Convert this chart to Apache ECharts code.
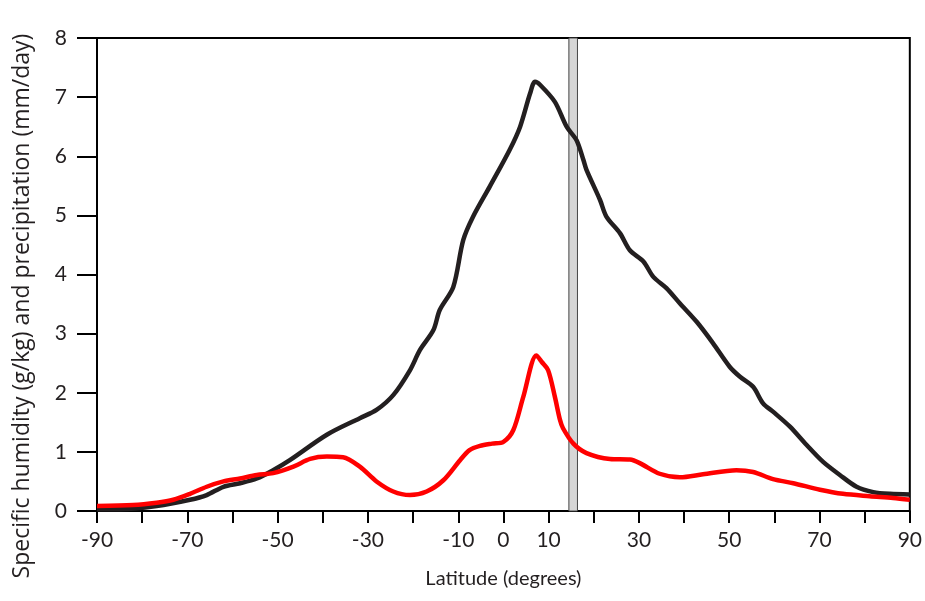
<!DOCTYPE html>
<html>
<head>
<meta charset="utf-8">
<script src="https://cdn.jsdelivr.net/npm/echarts@6/dist/echarts.min.js"></script>
<style>
html,body{margin:0;padding:0;background:#fff;}
#chart{width:925px;height:601px;}
</style>
</head>
<body>
<div id="chart"></div>
<script>
// Latitude positions (degrees) and values
const humidityLat = [-90,-84.9,-76.8,-69.4,-65.7,-62.0,-58.3,-54.6,-51.0,-47.3,-39.1,-31.8,-28.1,-24.4,-20.7,-18.5,-15.5,-14.1,-11.1,-8.9,-6.7,-3.0,1.4,3.7,5.9,7.0,8.1,11.4,14.0,16.2,17.7,18.4,21.4,22.8,25.8,28.0,31.0,33.2,36.1,39.1,42.8,46.4,50.1,52.4,55.3,57.5,59.7,63.4,67.1,70.8,74.5,78.2,81.9,85.6,90];
const humidity = [0.03,0.03,0.085,0.19,0.27,0.41,0.47,0.55,0.69,0.86,1.29,1.57,1.71,1.96,2.38,2.72,3.06,3.40,3.79,4.58,4.98,5.49,6.11,6.50,7.06,7.26,7.21,6.92,6.50,6.27,5.94,5.77,5.26,4.98,4.70,4.41,4.22,3.96,3.77,3.51,3.20,2.84,2.44,2.27,2.10,1.82,1.68,1.43,1.12,0.83,0.61,0.41,0.32,0.29,0.28];

const precipLat = [-90,-82,-76.8,-73.1,-69.4,-65.7,-62.0,-58.3,-54.6,-51.0,-46.5,-42.8,-39.1,-35.5,-31.8,-28.1,-24.4,-20.7,-17.0,-13.3,-9.6,-7.5,-5.2,-2.5,0.0,2.2,4.4,7.3,8.5,9.9,11.4,12.5,13.2,15.5,18.4,23.6,28.0,30.2,34.6,39.1,44.2,51.6,55.3,59.7,64.2,70.1,75.2,81.1,86.3,90];
const precip = [0.085,0.10,0.14,0.19,0.29,0.41,0.50,0.55,0.61,0.64,0.75,0.88,0.92,0.91,0.75,0.50,0.33,0.27,0.33,0.52,0.86,1.03,1.10,1.14,1.17,1.37,1.93,2.63,2.52,2.38,1.93,1.55,1.40,1.14,0.98,0.88,0.87,0.81,0.63,0.57,0.62,0.69,0.66,0.54,0.47,0.36,0.29,0.25,0.22,0.19];

const bandLat = [14.5, 16.4];
const xTickLabels = [-90,-70,-50,-30,-10,0,10,30,50,70,90];

const FONT = 'Lato';
const chart = echarts.init(document.getElementById('chart'), null, {renderer:'canvas'});
chart.setOption({
  animation: false,
  backgroundColor: '#fff',
  textStyle: {fontFamily: FONT},
  grid: {left: 97, right: 15, top: 38, bottom: 90, show: true, borderColor: '#000', borderWidth: 2},
  xAxis: {
    type: 'value', min: -90, max: 90, interval: 10,
    name: 'Latitude (degrees)', nameLocation: 'middle', nameGap: 58,
    nameTextStyle: {fontFamily: FONT, fontSize: 20, color: '#231f20'},
    axisLine: {show: true, onZero: false, lineStyle: {color: '#000', width: 2}},
    axisTick: {show: true, length: 12, lineStyle: {color: '#000', width: 2}},
    axisLabel: {
      margin: 19, fontFamily: FONT, fontSize: 21, color: '#231f20',
      showMinLabel: true, showMaxLabel: true,
      formatter: v => xTickLabels.includes(v) ? String(v) : ''
    },
    splitLine: {show: false}
  },
  yAxis: {
    type: 'value', min: 0, max: 8, interval: 1,
    axisLine: {show: true, onZero: false, lineStyle: {color: '#000', width: 2}},
    axisTick: {show: true, length: 20, lineStyle: {color: '#000', width: 2}},
    axisLabel: {margin: 30, fontFamily: FONT, fontSize: 21, color: '#231f20'},
    splitLine: {show: false}
  },
  graphic: [{
    type: 'text', z: 10,
    rotation: Math.PI/2, x: 22, y: 306,
    style: {text: 'Specific humidity (g/kg) and precipitation (mm/day)', font: '23px "Open Sans"', fill: '#231f20', align: 'center', verticalAlign: 'middle'}
  }],
  series: [
    {
      type: 'line', data: [], z: 1, silent: true,
      markArea: {
        silent: true,
        itemStyle: {color: '#d6d6d6', borderColor: '#444', borderWidth: 1},
        data: [[{xAxis: bandLat[0]}, {xAxis: bandLat[1]}]]
      }
    },
    {
      type: 'line', z: 3, smooth: 0.3, showSymbol: false, symbol: 'none',
      data: humidityLat.map((x, i) => [x, humidity[i]]),
      lineStyle: {color: '#231f20', width: 4.5}
    },
    {
      type: 'line', z: 4, smooth: 0.3, showSymbol: false, symbol: 'none',
      data: precipLat.map((x, i) => [x, precip[i]]),
      lineStyle: {color: '#ff0000', width: 4.5}
    }
  ]
});
</script>
</body>
</html>
